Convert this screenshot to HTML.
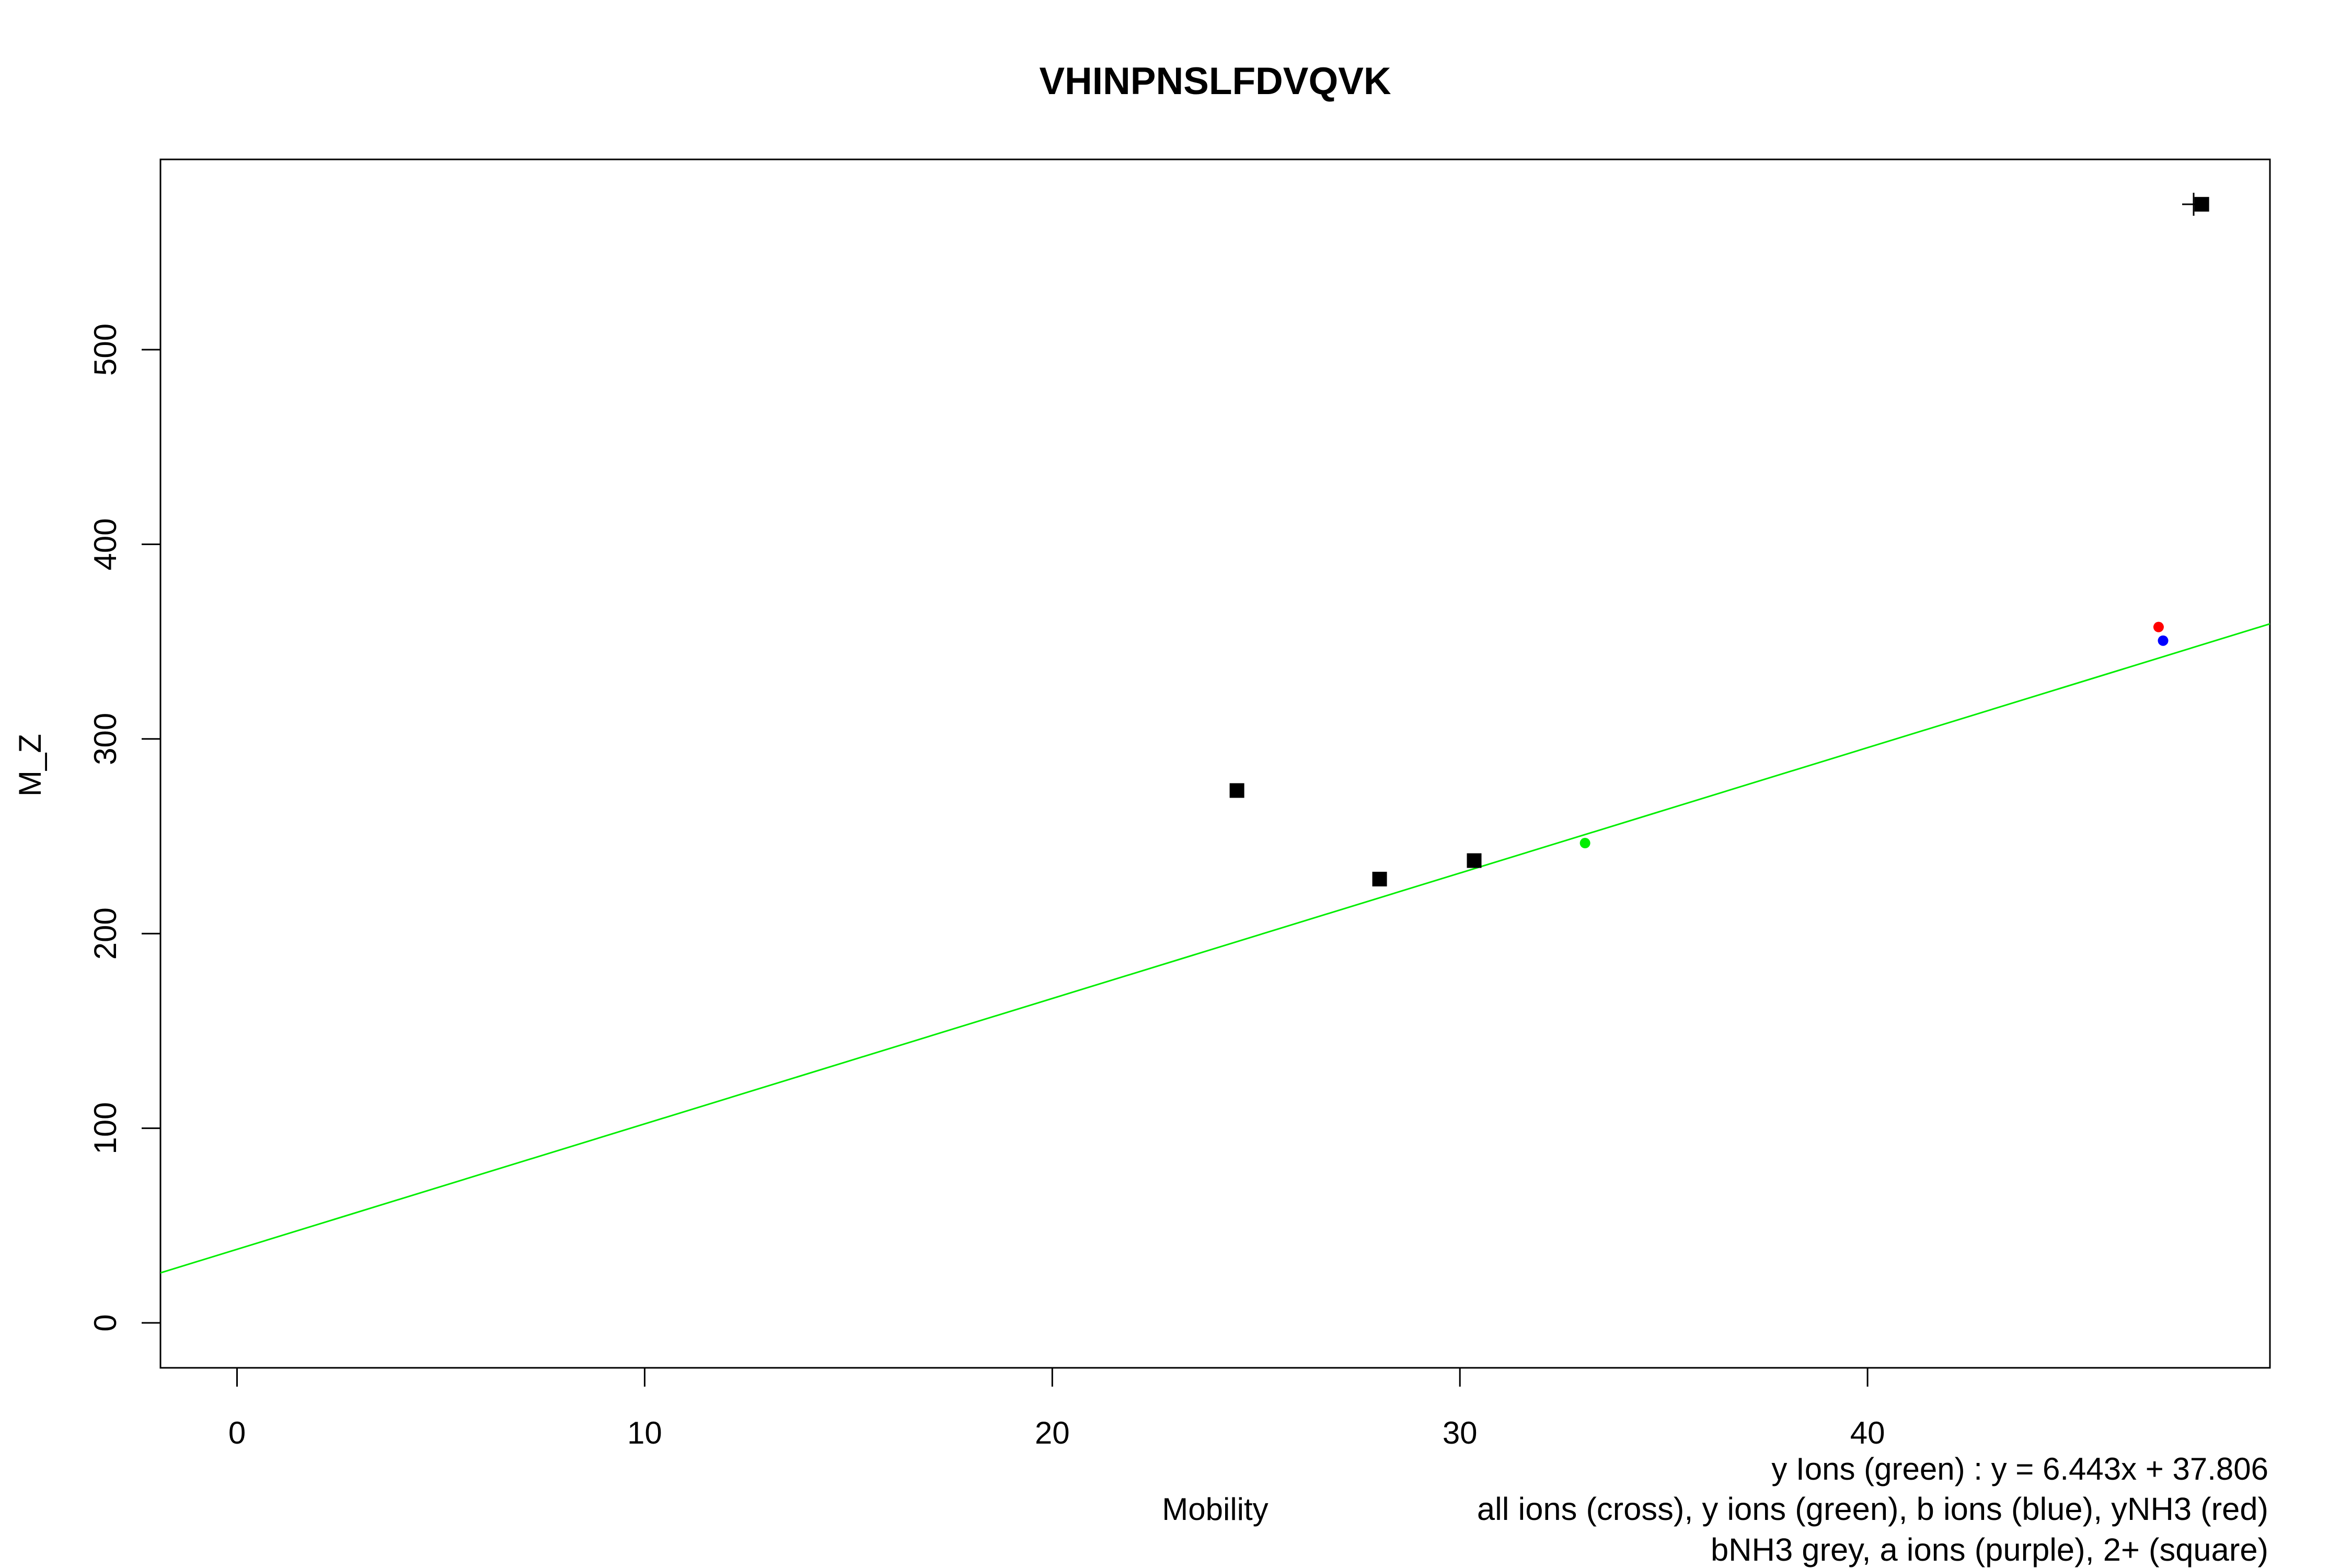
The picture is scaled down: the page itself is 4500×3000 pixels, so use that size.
<!DOCTYPE html>
<html><head><meta charset="utf-8"><style>html,body{margin:0;padding:0;background:#fff}svg{display:block}</style></head>
<body>
<svg id="chart" width="4500" height="3000" viewBox="0 0 4500 3000" xmlns="http://www.w3.org/2000/svg" font-family="'Liberation Sans', Arial, sans-serif">
<rect x="0" y="0" width="4500" height="3000" fill="#fff"/>
<text x="2325" y="180" font-size="73" font-weight="bold" text-anchor="middle">VHINPNSLFDVQVK</text>
<rect x="307" y="305" width="4036" height="2312" fill="none" stroke="#000" stroke-width="3"/>
<g id="xaxis"></g>
<g id="yaxis"></g>
<g id="marks"></g>
<text transform="translate(78,1464) rotate(-90)" font-size="60" text-anchor="middle">M_Z</text>
<text x="4340" y="2831" font-size="60" text-anchor="end">y Ions (green) : y = 6.443x + 37.806</text>
<text x="2325" y="2908" font-size="60" text-anchor="middle">Mobility</text>
<text x="4340" y="2908" font-size="61.5" text-anchor="end">all ions (cross), y ions (green), b ions (blue), yNH3 (red)</text>
<text x="4340" y="2986" font-size="61.5" text-anchor="end">bNH3 grey, a ions (purple), 2+ (square)</text>
<script>
const xTicks = [0, 10, 20, 30, 40];
const yTicks = [0, 100, 200, 300, 400, 500];
const squareX = [24.53, 28.03, 30.35, 48.2];
const squareY = [273.5, 228, 237.5, 574.7];
const crossX = [48.0];
const crossY = [574.7];
const yIonX = [33.07];
const yIonY = [246.5];
const bIonX = [47.25];
const bIonY = [350.5];
const yNH3X = [47.14];
const yNH3Y = [357.5];
const fitSlope = 6.443;
const fitIntercept = 37.806;

const NS = 'http://www.w3.org/2000/svg';
const L = 307, R = 4343, T = 305, B = 2617;
function sx(v){ return 453.5 + v * 77.99; }
function sy(v){ return 2531 - v * 3.724; }
function ix(p){ return (p - 453.5) / 77.99; }
const xMin = ix(L), xMax = ix(R);
function mk(tag, attrs, parent){
  const e = document.createElementNS(NS, tag);
  for (const k in attrs) e.setAttribute(k, attrs[k]);
  parent.appendChild(e);
  return e;
}
const xa = document.getElementById('xaxis');
const ya = document.getElementById('yaxis');
const marks = document.getElementById('marks');
xTicks.forEach(t => {
  const l = mk('line', {x1: sx(t), x2: sx(t), y1: B, y2: B + 36, stroke: '#000', 'stroke-width': 3}, xa);
  
  
  const tx = mk('text', {x: sx(t), y: 2762, 'font-size': 60, 'text-anchor': 'middle'}, xa);
  tx.textContent = t;
  
  
});
yTicks.forEach(t => {
  const l = mk('line', {x1: L - 36, x2: L, y1: sy(t), y2: sy(t), stroke: '#000', 'stroke-width': 3}, ya);
  
  
  const tx = mk('text', {transform: 'translate(222,' + sy(t) + ') rotate(-90)', 'font-size': 60, 'text-anchor': 'middle'}, ya);
  tx.textContent = t;
  
  
});
const defs = mk('defs', {}, marks);
const cp = mk('clipPath', {id: 'pc'}, defs);
mk('rect', {x: L, y: T, width: R - L, height: B - T}, cp);
const fit = mk('line', {x1: sx(xMin), y1: sy(fitSlope * xMin + fitIntercept), x2: sx(xMax), y2: sy(fitSlope * xMax + fitIntercept), stroke: '#00ee00', 'stroke-width': 3, 'clip-path': 'url(#pc)'}, marks);


crossX.forEach((v, i) => {
  const g = mk('g', {stroke: '#000', 'stroke-width': 3}, marks);
  
  
  mk('line', {x1: sx(v) - 22, x2: sx(v) + 22, y1: sy(crossY[i]), y2: sy(crossY[i])}, g);
  mk('line', {x1: sx(v), x2: sx(v), y1: sy(crossY[i]) - 22, y2: sy(crossY[i]) + 22}, g);
});
squareX.forEach((v, i) => {
  const r = mk('rect', {x: sx(v) - 14, y: sy(squareY[i]) - 14, width: 28, height: 28, fill: '#000'}, marks);
  
  
});
function dots(xs, ys, col, name){
  xs.forEach((v, i) => {
    const c = mk('circle', {cx: sx(v), cy: sy(ys[i]), r: 10, fill: col}, marks);
    
    
  });
}
dots(yIonX, yIonY, '#00ee00', 'y-ion-point');
dots(yNH3X, yNH3Y, '#ff0000', 'ynh3-point');
dots(bIonX, bIonY, '#0000ff', 'b-ion-point');
</script>
</svg>
</body></html>
